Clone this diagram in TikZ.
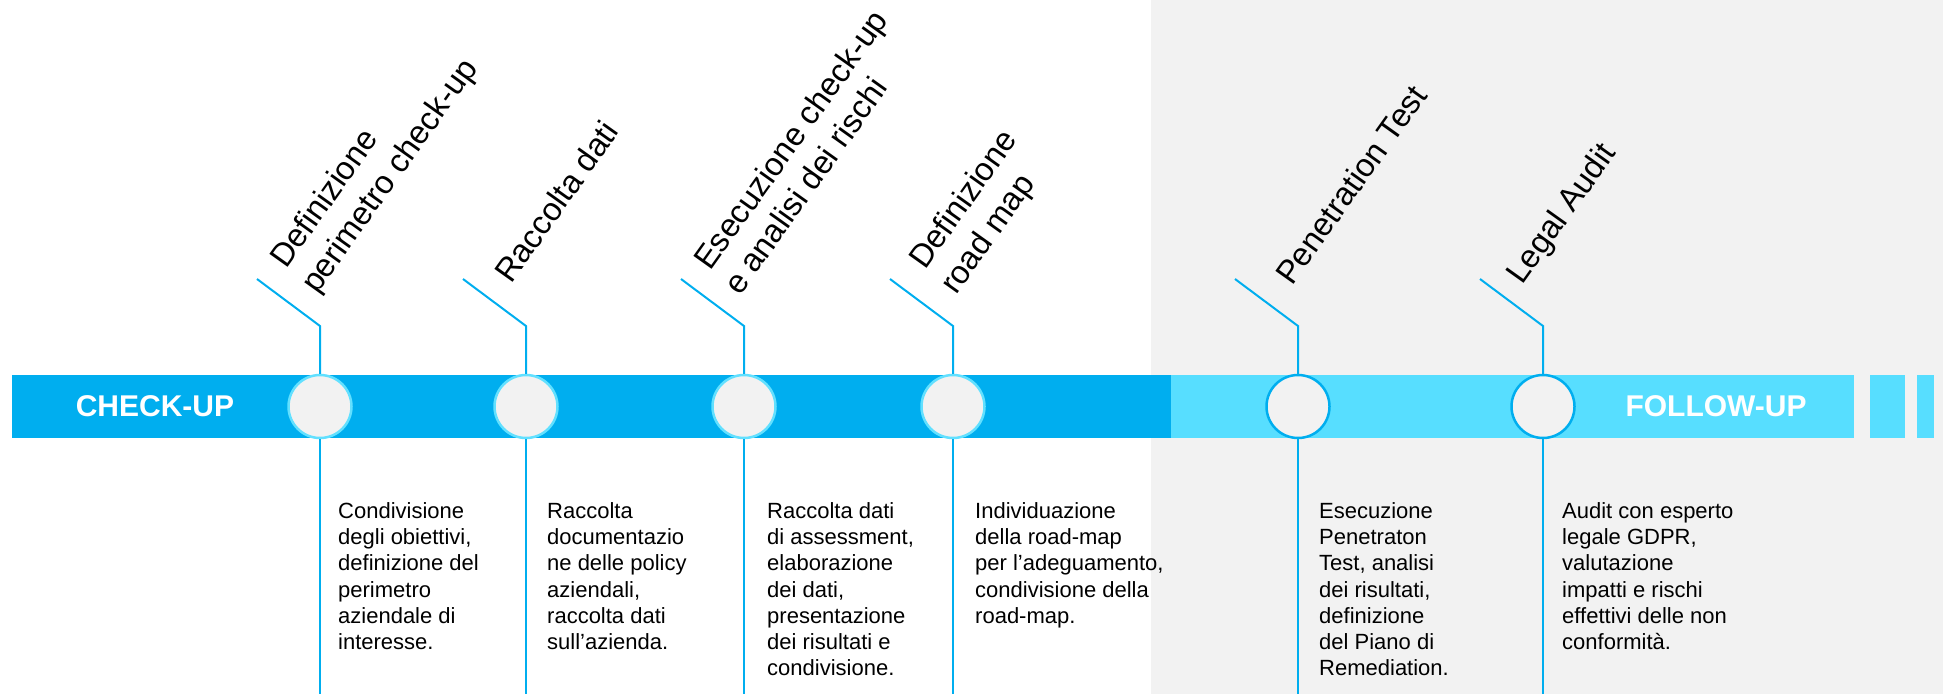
\documentclass[tikz,border=0pt]{standalone}
\usepackage{fontspec}
\setmainfont{Liberation Sans}
\definecolor{dblue}{HTML}{00AEEF}
\definecolor{lblue}{HTML}{57DEFF}
\definecolor{cring}{HTML}{62E0FF}
\definecolor{bggray}{HTML}{F2F2F2}
\begin{document}
\begin{tikzpicture}[x=1pt,y=-1pt,
  conn/.style={draw=dblue,line width=2pt},
  dot/.style={circle,minimum size=63pt,inner sep=0,fill=bggray,line width=2.5pt},
  dotA/.style={dot,draw=cring},
  dotB/.style={dot,draw=dblue},
  head/.style={anchor=base west,rotate=54.5,inner sep=0,font=\fontsize{32.5}{36}\selectfont},
  desc/.style={anchor=north west,align=left,inner sep=0,font=\fontsize{22}{26.3}\selectfont},
  phase/.style={text=white,inner sep=0,font=\fontsize{30}{30}\selectfont\bfseries}]
\useasboundingbox (0,0) rectangle (1943,694);
% background of follow-up area
\fill[bggray] (1151,0) rectangle (1943,694);
% bars
\fill[dblue] (12,375) rectangle (1171,438);
\fill[lblue] (1171,375) rectangle (1854,438);
\fill[lblue] (1870,375) rectangle (1905,438);
\fill[lblue] (1917,375) rectangle (1934,438);
\node[phase] (pc) at (155,406.5) {CHECK-UP};
\node[phase] (pf) at (1716,406.5) {FOLLOW-UP};
% milestones
\node[dotA] (c1) at (320,406.5) {};
\node[dotA] (c2) at (526,406.5) {};
\node[dotA] (c3) at (744,406.5) {};
\node[dotA] (c4) at (953,406.5) {};
\node[dotB] (c5) at (1298,406.5) {};
\node[dotB] (c6) at (1543,406.5) {};
% connectors
\foreach \i/\x in {1/320,2/526,3/744,4/953,5/1298,6/1543}{
  \coordinate (t\i) at (\x-63,279);
  \coordinate (k\i) at (\x,326);
  \coordinate (e\i) at (\x,694);
  \draw[conn] (t\i) -- (k\i) -- (c\i.north);
  \draw[conn] (c\i.south) -- (e\i);
}
% headings
\node[head] (h1a) at (286,270) {Definizione};
\node[head] (h1b) at (317,295) {perimetro check-up};
\node[head] (h2) at (511,285) {Raccolta dati};
\node[head] (h3a) at (710,272) {Esecuzione check-up};
\node[head] (h3b) at (740,297) {e analisi dei rischi};
\node[head] (h4a) at (925,271) {Definizione};
\node[head] (h4b) at (956,296) {road map};
\node[head] (h5) at (1292,287) {Penetration Test};
\node[head] (h6) at (1522,286) {Legal Audit};
% descriptions
\node[desc] (d1) at (338,502) {Condivisione\\degli obiettivi,\\definizione del\\perimetro\\aziendale di\\interesse.};
\node[desc] (d2) at (547,502) {Raccolta\\documentazio\\ne delle policy\\aziendali,\\raccolta dati\\sull’azienda.};
\node[desc] (d3) at (767,502) {Raccolta dati\\di assessment,\\elaborazione\\dei dati,\\presentazione\\dei risultati e\\condivisione.};
\node[desc] (d4) at (975,502) {Individuazione\\della road-map\\per l’adeguamento,\\condivisione della\\road-map.};
\node[desc] (d5) at (1319,502) {Esecuzione\\Penetraton\\Test, analisi\\dei risultati,\\definizione\\del Piano di\\Remediation.};
\node[desc] (d6) at (1562,502) {Audit con esperto\\legale GDPR,\\valutazione\\impatti e rischi\\effettivi delle non\\conformità.};
\end{tikzpicture}
\end{document}
